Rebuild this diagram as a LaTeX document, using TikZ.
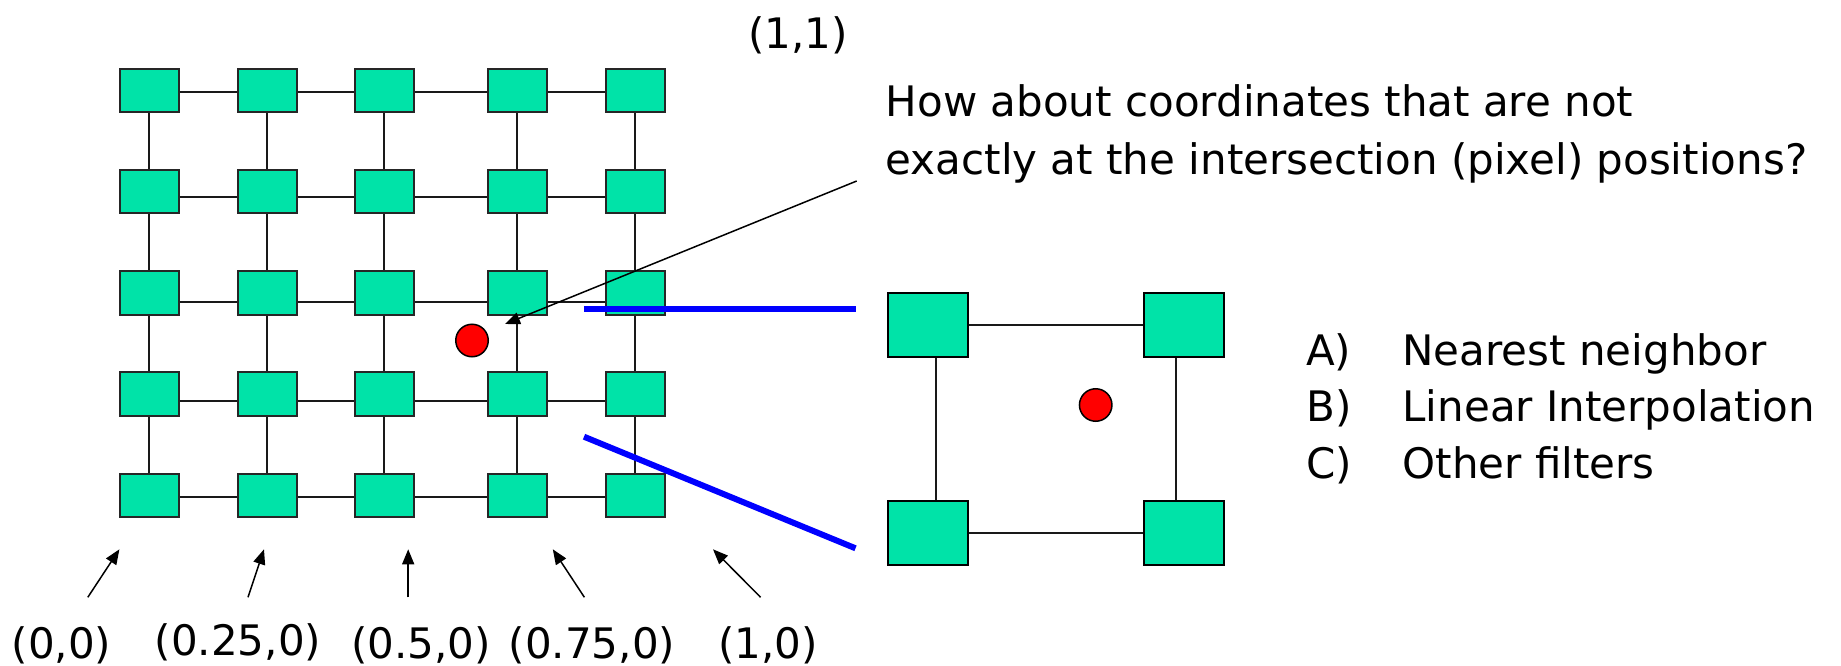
\documentclass[tikz,border=0pt]{standalone}
\usepackage{fontspec}
\setmainfont{DejaVu Sans}
\usetikzlibrary{arrows.meta,calc}
\definecolor{cellgreen}{RGB}{0,227,168}
\begin{document}
\begin{tikzpicture}[x=1pt,y=-1pt,
  cell/.style={draw=black!85,line width=2pt,fill=cellgreen,minimum width=59pt,minimum height=43.5pt,inner sep=0pt},
  bigcell/.style={draw=black,line width=2.2pt,fill=cellgreen,minimum width=80pt,minimum height=64pt,inner sep=0pt},
  link/.style={draw=black!90,line width=2pt},
  dot/.style={circle,draw=black,line width=1.5pt,fill=red,minimum size=32.5pt,inner sep=0pt},
  ptr/.style={draw=black,line width=1.5pt,-{Triangle[length=15pt,width=12pt]}},
  zoomline/.style={draw=blue,line width=6pt},
  lbl/.style={inner sep=0pt,font=\fontsize{42}{50}\selectfont},
]
\useasboundingbox (0,0) rectangle (1841,666);

% grid of samples
\foreach \c/\x in {1/149,2/267,3/384,4/517,5/635}
  \foreach \r/\y in {1/90.7,2/191.7,3/293,4/394.2,5/495.3}
    \node[cell] (g\c\r) at (\x,\y) {};
\foreach \r/\o in {1/1.3,2/5.3,3/9,4/6.8,5/1.4}
  \foreach \a/\b in {1/2,2/3,3/4,4/5}
    \draw[link] ([yshift=-\o pt]g\a\r.east) -- ([yshift=-\o pt]g\b\r.west);
\foreach \c in {1,...,5}
  \foreach \a/\b in {1/2,2/3,3/4,4/5}
    \draw[link] (g\c\a.south) -- (g\c\b.north);

% sample point
\node[dot] (p) at (472,340.5) {};

% magnified cell
\node[bigcell] (tl) at (928,325) {};
\node[bigcell] (tr) at (1184,325) {};
\node[bigcell] (bl) at (928,533) {};
\node[bigcell] (br) at (1184,533) {};
\draw[link] (tl.east) -- (tr.west);
\draw[link] (bl.east) -- (br.west);
\draw[link] ([xshift=8pt]tl.south) -- ([xshift=8pt]bl.north);
\draw[link] ([xshift=-8pt]tr.south) -- ([xshift=-8pt]br.north);
\node[dot] (q) at (1095.7,405) {};

% zoom lines
\coordinate (z1a) at (584,309);
\coordinate (z1b) at (855.5,309);
\coordinate (z2a) at (584,436.7);
\coordinate (z2b) at (855.5,548.3);
\draw[zoomline] (z1a) -- (z1b);
\draw[zoomline] (z2a) -- (z2b);

% question
\node[lbl,anchor=base west] (q1) at (885.5,117) {How about coordinates that are not};
\node[lbl,anchor=base west] (q2) at (885.5,174) {exactly at the intersection (pixel) positions?};
\coordinate (qt) at (856.7,181);
\coordinate (qh) at (505,324);
\draw[ptr] (qt) -- (qh);

\node[lbl,anchor=base] (c11) at (798,48.3) {(1,1)};

% options
\node[lbl,anchor=base west] (la) at (1306,365) {A)};
\node[lbl,anchor=base west] (lb) at (1306,421.5) {B)};
\node[lbl,anchor=base west] (lc) at (1306,478) {C)};
\node[lbl,anchor=base west] (ta) at (1402.3,365) {Nearest neighbor};
\node[lbl,anchor=base west] (tb) at (1402.3,421.5) {Linear Interpolation};
\node[lbl,anchor=base west] (tc) at (1402.3,478) {Other filters};

% coordinate labels
\node[lbl,anchor=base] (l0) at (61.6,658) {(0,0)};
\node[lbl,anchor=base] (l1) at (238,655) {(0.25,0)};
\node[lbl,anchor=base] (l2) at (421,658) {(0.5,0)};
\node[lbl,anchor=base] (l3) at (592,658) {(0.75,0)};
\node[lbl,anchor=base] (l4) at (768,658) {(1,0)};
\coordinate (a0t) at (87.8,597.3);  \coordinate (a0h) at (119.4,549.3);
\coordinate (a1t) at (248,597.3);   \coordinate (a1h) at (264,549.3);
\coordinate (a2t) at (408.2,597.3); \coordinate (a2h) at (408.2,549.3);
\coordinate (a3t) at (584.4,597.3); \coordinate (a3h) at (552.8,549.3);
\coordinate (a4t) at (760.6,597.3); \coordinate (a4h) at (713,549.3);
\foreach \i in {0,...,4}
  \draw[ptr] (a\i t) -- (a\i h);
\end{tikzpicture}
\end{document}
